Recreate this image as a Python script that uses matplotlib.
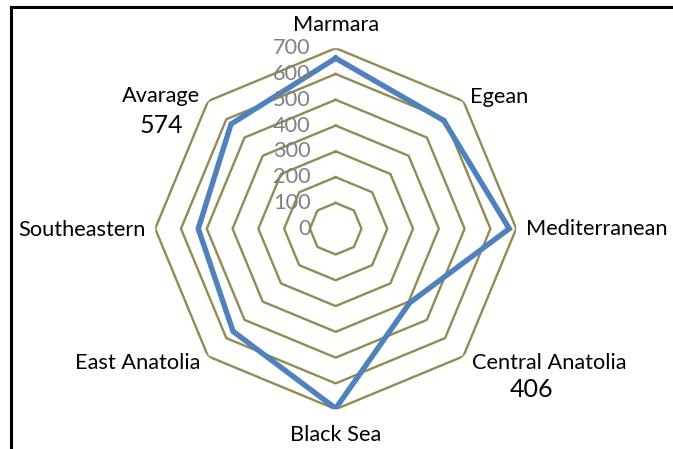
import numpy as np
import matplotlib
matplotlib.use("Agg")
import matplotlib.pyplot as plt
from matplotlib.lines import Line2D

plt.rcParams['font.family'] = ['Lato', 'DejaVu Sans']

categories = ["Marmara", "Egean", "Mediterranean", "Central Anatolia",
              "Black Sea", "East Anatolia", "Southeastern", "Avarage"]
values = [661, 593, 673, 406, 697, 563, 533, 574]
ring_ticks = [0, 100, 200, 300, 400, 500, 600, 700]
shown_values = {"Central Anatolia": "406", "Avarage": "574"}

W, H, DPI = 673, 449, 100
fig = plt.figure(figsize=(W / DPI, H / DPI), dpi=DPI)
fig.patch.set_facecolor("white")

cx, cy, R = 335.7, 228.7, 180.5
ax = fig.add_axes([(cx - R) / W, 1 - (cy + R) / H, 2 * R / W, 2 * R / H],
                  projection="polar")
ax.set_theta_offset(np.pi / 2)
ax.set_theta_direction(-1)
ax.set_ylim(0, 700)
ax.grid(False)
ax.spines["polar"].set_visible(False)
ax.set_xticks([])
ax.set_yticks([])
ax.patch.set_alpha(0)

n = len(categories)
angles = np.arange(n) * 2 * np.pi / n
closed = np.append(angles, angles[0])

grid_color = "#948A54"
for r in ring_ticks[1:]:
    ax.plot(closed, [r] * (n + 1), color=grid_color, lw=1.7, zorder=1)

ax.plot(closed, values + values[:1], color="#4F81BD", lw=3.9, zorder=3,
        solid_joinstyle="miter")

fs = 15.7
px = 0.72
for t in ring_ticks:
    ax.annotate(str(t), xy=(0, t), xytext=(-25 * px, 0), textcoords="offset points",
                ha="right", va="center", fontsize=fs, color="#808080", zorder=4,
                annotation_clip=False)

offsets = {
    "Marmara": ((0, 23), "center", "center"),
    "Egean": ((7, 4), "left", "center"),
    "Mediterranean": ((10, 0), "left", "center"),
    "Central Anatolia": ((8.4, -7), "left", "center"),
    "Black Sea": ((0, -26), "center", "center"),
    "East Anatolia": ((-8, -7), "right", "center"),
    "Southeastern": ((-10, -1), "right", "center"),
    "Avarage": ((-8, 5), "right", "center"),
}
value_offsets = {
    "Central Anatolia": (68.4, -32.7),
    "Avarage": (-46.3, -24),
}
for ang, cat in zip(angles, categories):
    (dx, dy), ha, va = offsets[cat]
    ax.annotate(cat, xy=(ang, 700), xytext=(dx * px, dy * px),
                textcoords="offset points", ha=ha, va=va, fontsize=fs,
                color="black", annotation_clip=False)
    if cat in shown_values:
        vx, vy = value_offsets[cat]
        ax.annotate(shown_values[cat], xy=(ang, 700), xytext=(vx * px, vy * px),
                    textcoords="offset points", ha="center", va="center",
                    fontsize=18, color="black", annotation_clip=False)

# figure border (left and top edges visible)
lx, ty = 11 / W, 1 - 7 / H
fig.add_artist(Line2D([lx, lx], [0, ty], transform=fig.transFigure,
                      color="black", lw=2.2, solid_capstyle="projecting"))
fig.add_artist(Line2D([lx, 1], [ty, ty], transform=fig.transFigure,
                      color="black", lw=2.2, solid_capstyle="projecting"))

fig.savefig("out.png", dpi=DPI, facecolor="white")
